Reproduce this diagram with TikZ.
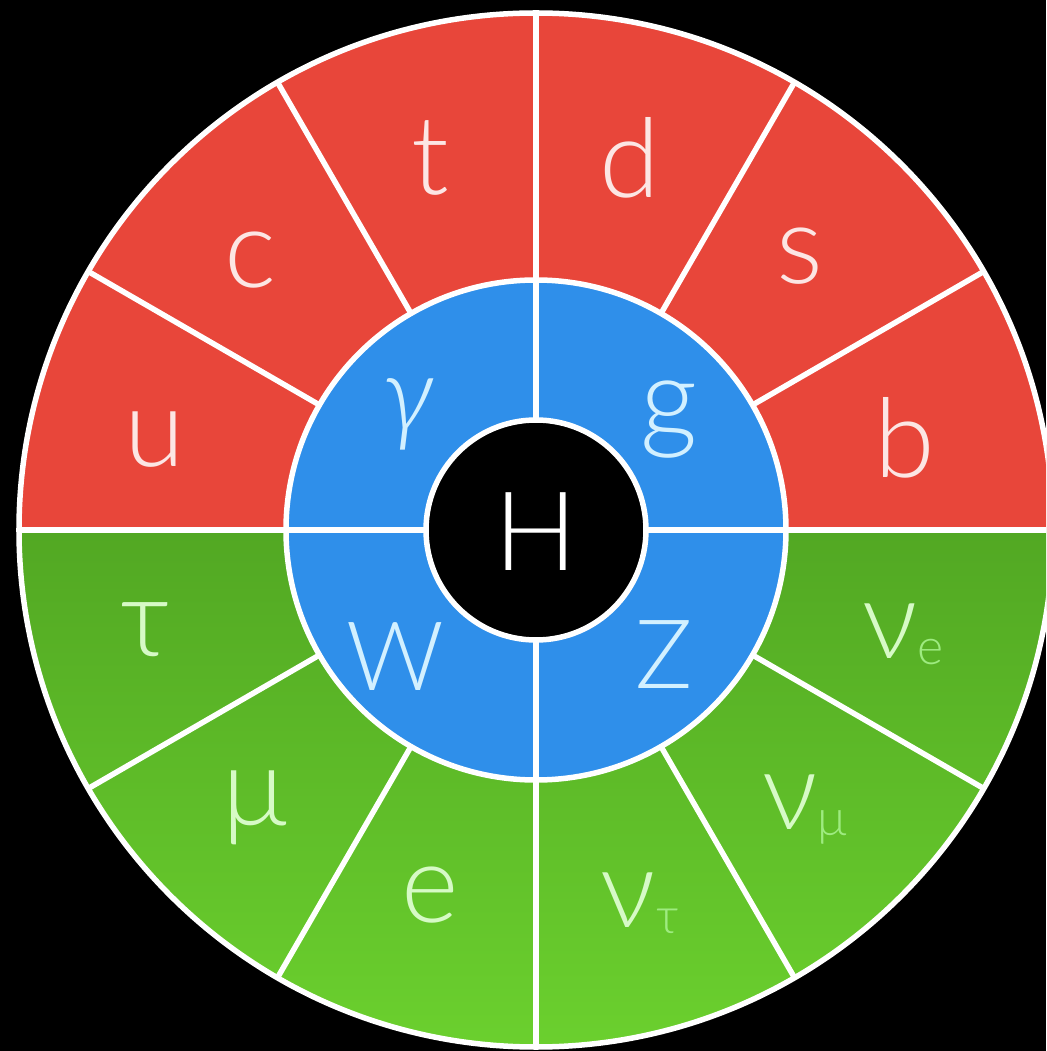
\documentclass[tikz,border=0pt]{standalone}
\usepackage{fontspec}
\setmainfont{Lato}[UprightFont=* Light, ItalicFont=* Light Italic]
\definecolor{cred}{HTML}{E8463A}
\definecolor{cblue}{HTML}{2F8FEA}
\definecolor{cgreentop}{HTML}{52A823}
\definecolor{cgreenbot}{HTML}{6BD02E}
\definecolor{tred}{HTML}{FCE6E4}
\definecolor{tblue}{HTML}{D2F0FF}
\definecolor{tgreen}{HTML}{D6FAC6}
\definecolor{tsub}{HTML}{9EEB80}
\newcommand{\mysub}[1]{\raisebox{-6pt}{\fontsize{50}{50}\selectfont\color{tsub}#1}}
\tikzset{
  lab/.style={font=\fontsize{110}{110}\selectfont, inner sep=0pt},
  blab/.style={font=\fontsize{96}{96}\selectfont, inner sep=0pt, text=tblue},
  sep/.style={white, line width=5.5pt},
}
\begin{document}
\begin{tikzpicture}[x=1pt,y=1pt]
\fill[black] (-536,-521) rectangle (510,530);
\useasboundingbox (-536,-521) rectangle (510,530);
\clip (-536,-521) rectangle (510,530);
\def\R{517}
% halves
\fill[cred] (\R,0) arc (0:180:\R) -- cycle;
\shade[top color=cgreentop, bottom color=cgreenbot] (-\R,0) arc (180:360:\R) -- cycle;
% blue ring and centre
\fill[cblue] (0,0) circle (250);
\fill[black] (0,0) circle (110);
% radial separators of the outer ring
\foreach \a in {0,30,...,330} \draw[sep] (\a:250) -- (\a:\R);
% separators of the blue ring
\foreach \a in {0,90,180,270} \draw[sep] (\a:110) -- (\a:250);
% circles
\draw[sep] (0,0) circle (250);
\draw[sep] (0,0) circle (110);
\draw[sep] (0,0) circle (\R);
% labels, quarks
\node[lab, text=tred] (u) at (-381,90) {u};
\node[lab, text=tred] (c) at (-286,270) {c};
\node[lab, text=tred] (t) at (-106,372) {t};
\node[lab, text=tred] (d) at (94,372) {d};
\node[lab, text=tred] (s) at (264,274) {s};
\node[lab, text=tred] (b) at (369,92) {b};
% leptons
\node[lab, text=tgreen] (tau) at (-391,-100) {τ};
\node[lab, text=tgreen] (mu) at (-281,-278) {μ};
\node[lab, text=tgreen] (e) at (-106,-365) {e};
\node[lab, text=tgreen] (nut) at (104,-373) {ν\mysub{τ}};
\node[lab, text=tgreen] (num) at (269,-280) {ν\mysub{μ}};
\node[lab, text=tgreen] (nue) at (367,-104) {ν\mysub{e}};
% bosons
\node[blab, font=\fontsize{106}{106}\selectfont] (gamma) at (-128,116) {\itshape γ};
\node[blab, font=\fontsize{112}{112}\selectfont] (g) at (133,110) {g};
\node[blab] (W) at (-141,-127) {W};
\node[blab] (Z) at (128,-125) {Z};
\node[lab, text=white] (H) at (0,-2) {H};
\end{tikzpicture}
\end{document}
